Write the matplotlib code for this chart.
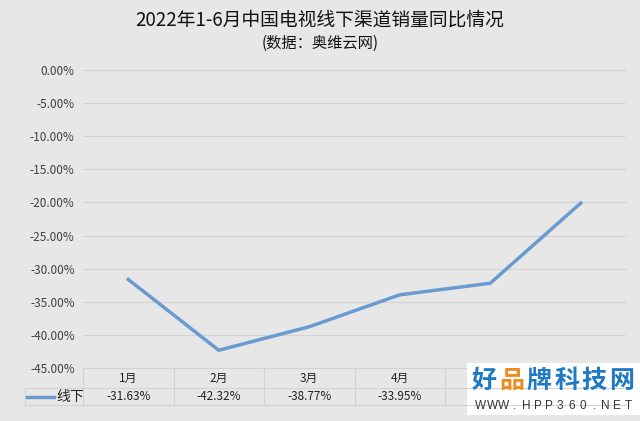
import matplotlib.pyplot as plt
from matplotlib.transforms import blended_transform_factory
from matplotlib.patches import Rectangle

plt.rcParams['font.family'] = ['Noto Sans CJK SC', 'DejaVu Sans']

# datos
meses = ['1月', '2月', '3月', '4月', '5月', '6月']
linea_abajo = [-31.63, -42.32, -38.77, -33.95, -32.20, -20.10]
serie = '线下'
titulo = '2022年1-6月中国电视线下渠道销量同比情况'
subtitulo = '(数据：奥维云网)'
yticks = [0, -5, -10, -15, -20, -25, -30, -35, -40, -45]
visibles = 4  # las columnas 5月 y 6月 quedan bajo la marca de agua

W, H = 640, 421
fondo = '#e7e7e7'
azul = '#6a9bd0'
gris_txt = '#404040'
rejilla = '#d3d3d3'

fig = plt.figure(figsize=(W / 100, H / 100), dpi=100, facecolor=fondo)


def fy(py):
    return 1 - py / H


def fx(px):
    return px / W


# area del grafico
x0, x1 = 83, 626
y_top, y_bot = 70, 368
ax = fig.add_axes([fx(x0), fy(y_bot), fx(x1) - fx(x0), (y_bot - y_top) / H])
ax.set_facecolor(fondo)
x = list(range(len(meses)))
ax.plot(x, linea_abajo, color=azul, lw=2.5, solid_joinstyle='miter')
ax.set_xlim(-0.5, len(meses) - 0.5)
ax.set_ylim(-45, 0)
ax.set_yticks(yticks)
ax.set_yticklabels([f'{v:.2f}%' for v in yticks], fontsize=8.5, color=gris_txt)
ax.set_xticks([])
ax.tick_params(axis='y', length=0, pad=6)
ax.grid(axis='y', color=rejilla, lw=0.8)
ax.set_axisbelow(True)
for s in ax.spines.values():
    s.set_visible(False)
ax.spines['bottom'].set_visible(True)
ax.spines['bottom'].set_color(rejilla)

# tabla de datos
tr = blended_transform_factory(ax.transData, fig.transFigure)
fila1, fila2, fila3 = 368, 388, 405
for yy in (fila2, fila3):
    fig.add_artist(plt.Line2D([fx(25), fx(x1)], [fy(yy), fy(yy)], color=rejilla, lw=0.8))
fig.add_artist(plt.Line2D([fx(25), fx(25)], [fy(fila2), fy(fila3)], color=rejilla, lw=0.8))
for i in range(len(meses) + 1):
    xx = i - 0.5
    ax.plot([xx, xx], [fy(fila1), fy(fila3)], transform=tr, color=rejilla, lw=0.8,
            clip_on=False)
for i, (m, v) in enumerate(zip(meses[:visibles], linea_abajo[:visibles])):
    ax.text(i, fy((fila1 + fila2) / 2), m, transform=tr, ha='center', va='center',
            fontsize=8.5, color='#222222')
    ax.text(i, fy((fila2 + fila3) / 2), f'{v:.2f}%', transform=tr, ha='center',
            va='center', fontsize=8.5, color='#222222')

# leyenda en la tabla
fig.add_artist(plt.Line2D([fx(27), fx(54)], [fy(396.5), fy(396.5)], color=azul, lw=2.5))
fig.text(fx(56), fy(396.5), serie, ha='left', va='center', fontsize=10, color='#222222')

# titulos
fig.text(0.5, fy(20), titulo, ha='center', va='center', fontsize=13.5, color='#111111')
fig.text(0.5, fy(43), subtitulo, ha='center', va='center', fontsize=11, color='#111111')

# marca de agua
fig.add_artist(Rectangle((fx(467), fy(415)), fx(640) - fx(467), (415 - 363) / H,
                         transform=fig.transFigure, facecolor='white', edgecolor='none'))
marca = ['好', '品', '牌', '科', '技', '网']
colores = ['#1f7ac6', '#f08a1c', '#1f7ac6', '#1f7ac6', '#1f7ac6', '#1f7ac6']
for i, (c, col) in enumerate(zip(marca, colores)):
    fig.text(fx(484 + i * 27.5), fy(381), c, ha='center', va='center', fontsize=18,
             fontweight='bold', color=col)
web = 'WWW.HPP360.NET'
for i, c in enumerate(web):
    fig.text(fx(481 + i * 11.3), fy(406), c, ha='center', va='center', fontsize=8.5,
             color='#333333', family='Liberation Sans')

fig.savefig('out.png', dpi=100, facecolor=fondo)
